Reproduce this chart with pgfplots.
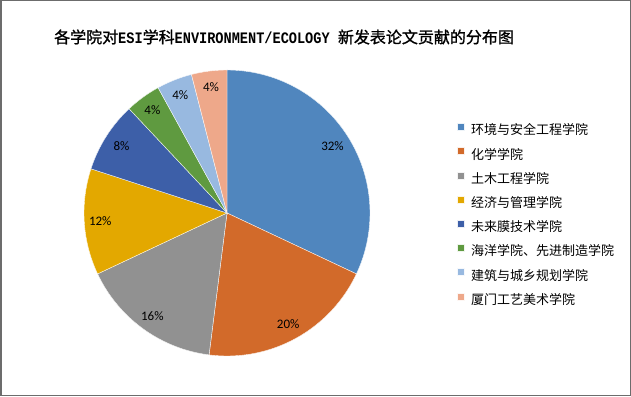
\documentclass[border=0pt]{standalone}
\usepackage{fontspec}
\usepackage{pgfplots}
\pgfplotsset{compat=1.18}
\setmainfont{Carlito}
\newfontfamily\cjk{Noto Sans CJK SC}
\newfontfamily\titlecjk[FakeBold=1.1]{Noto Sans CJK SC}
\newfontfamily\titlelatin[FakeStretch=0.85]{Liberation Mono}
\definecolor{c1}{RGB}{80,134,190}
\definecolor{c2}{RGB}{210,106,42}
\definecolor{c3}{RGB}{145,145,145}
\definecolor{c4}{RGB}{227,168,0}
\definecolor{c5}{RGB}{61,95,168}
\definecolor{c6}{RGB}{95,154,64}
\definecolor{c7}{RGB}{152,185,224}
\definecolor{c8}{RGB}{238,168,138}
\begin{document}
\begin{tikzpicture}
\begin{axis}[
  x=1pt, y=1pt, xmin=0, xmax=631, ymin=0, ymax=396,
  hide axis, clip=false,
  legend style={at={(axis cs:457,273)}, anchor=north west, draw=none, fill=none,
    inner sep=0pt, font=\cjk\fontsize{13}{14}\selectfont,
    nodes={inner sep=0pt, text height=9.5pt, text depth=2.5pt},
    row sep=10pt},
  legend cell align=left,
  /tikz/every odd column/.append style={column sep=6.5pt},
  legend image code/.code={\fill[#1] (0pt,1pt) rectangle (7pt,8pt);},
]
\addplot[fill=c1, draw=white!90!c1, line width=0.4pt, domain=0:32, samples=90] ({227+143*cos(90-3.6*x)},{183+143*sin(90-3.6*x)}) -- (227,183) -- cycle;
\addlegendentry{环境与安全工程学院}
\addplot[fill=c2, draw=white!90!c2, line width=0.4pt, domain=32:52, samples=60] ({227+143*cos(90-3.6*x)},{183+143*sin(90-3.6*x)}) -- (227,183) -- cycle;
\addlegendentry{化学学院}
\addplot[fill=c3, draw=white!90!c3, line width=0.4pt, domain=52:68, samples=50] ({227+143*cos(90-3.6*x)},{183+143*sin(90-3.6*x)}) -- (227,183) -- cycle;
\addlegendentry{土木工程学院}
\addplot[fill=c4, draw=white!90!c4, line width=0.4pt, domain=68:80, samples=40] ({227+143*cos(90-3.6*x)},{183+143*sin(90-3.6*x)}) -- (227,183) -- cycle;
\addlegendentry{经济与管理学院}
\addplot[fill=c5, draw=white!90!c5, line width=0.4pt, domain=80:88, samples=30] ({227+143*cos(90-3.6*x)},{183+143*sin(90-3.6*x)}) -- (227,183) -- cycle;
\addlegendentry{未来膜技术学院}
\addplot[fill=c6, draw=white!90!c6, line width=0.4pt, domain=88:92, samples=20] ({227+143*cos(90-3.6*x)},{183+143*sin(90-3.6*x)}) -- (227,183) -- cycle;
\addlegendentry{海洋学院、先进制造学院}
\addplot[fill=c7, draw=white!90!c7, line width=0.4pt, domain=92:96, samples=20] ({227+143*cos(90-3.6*x)},{183+143*sin(90-3.6*x)}) -- (227,183) -- cycle;
\addlegendentry{建筑与城乡规划学院}
\addplot[fill=c8, draw=white!90!c8, line width=0.4pt, domain=96:100, samples=20] ({227+143*cos(90-3.6*x)},{183+143*sin(90-3.6*x)}) -- (227,183) -- cycle;
\addlegendentry{厦门工艺美术学院}
\begin{scope}[every node/.style={font=\fontsize{13}{15}\selectfont, text=black}]
\node at (axis cs:{227+125*cos(32.4)},{183+125*sin(32.4)}) {32\%};
\node at (axis cs:{227+127*cos(-61.2)},{183+127*sin(-61.2)}) {20\%};
\node at (axis cs:{227+127*cos(-126)},{183+127*sin(-126)}) {16\%};
\node at (axis cs:{227+127*cos(-176.4)},{183+127*sin(-176.4)}) {12\%};
\node at (axis cs:{227+125*cos(-212.4)},{183+125*sin(-212.4)}) {8\%};
\node at (axis cs:{227+127*cos(-234)},{183+127*sin(-234)}) {4\%};
\node at (axis cs:{227+127*cos(-248.4)},{183+127*sin(-248.4)}) {4\%};
\node at (axis cs:{227+127*cos(-262.8)},{183+127*sin(-262.8)}) {4\%};
\end{scope}
\node[anchor=west, inner sep=0pt, font=\fontsize{16}{18}\selectfont] at (axis cs:54,359)
  {{\titlecjk 各学院对}{\titlelatin\bfseries ESI}{\titlecjk 学科}{\titlelatin\bfseries ENVIRONMENT/ECOLOGY }{\titlecjk 新发表论文贡献的分布图}};
\draw[gray!85!black, line width=1.5pt] (axis cs:0.75,0.75) rectangle (axis cs:630.25,395.25);
\end{axis}
\end{tikzpicture}
\end{document}
